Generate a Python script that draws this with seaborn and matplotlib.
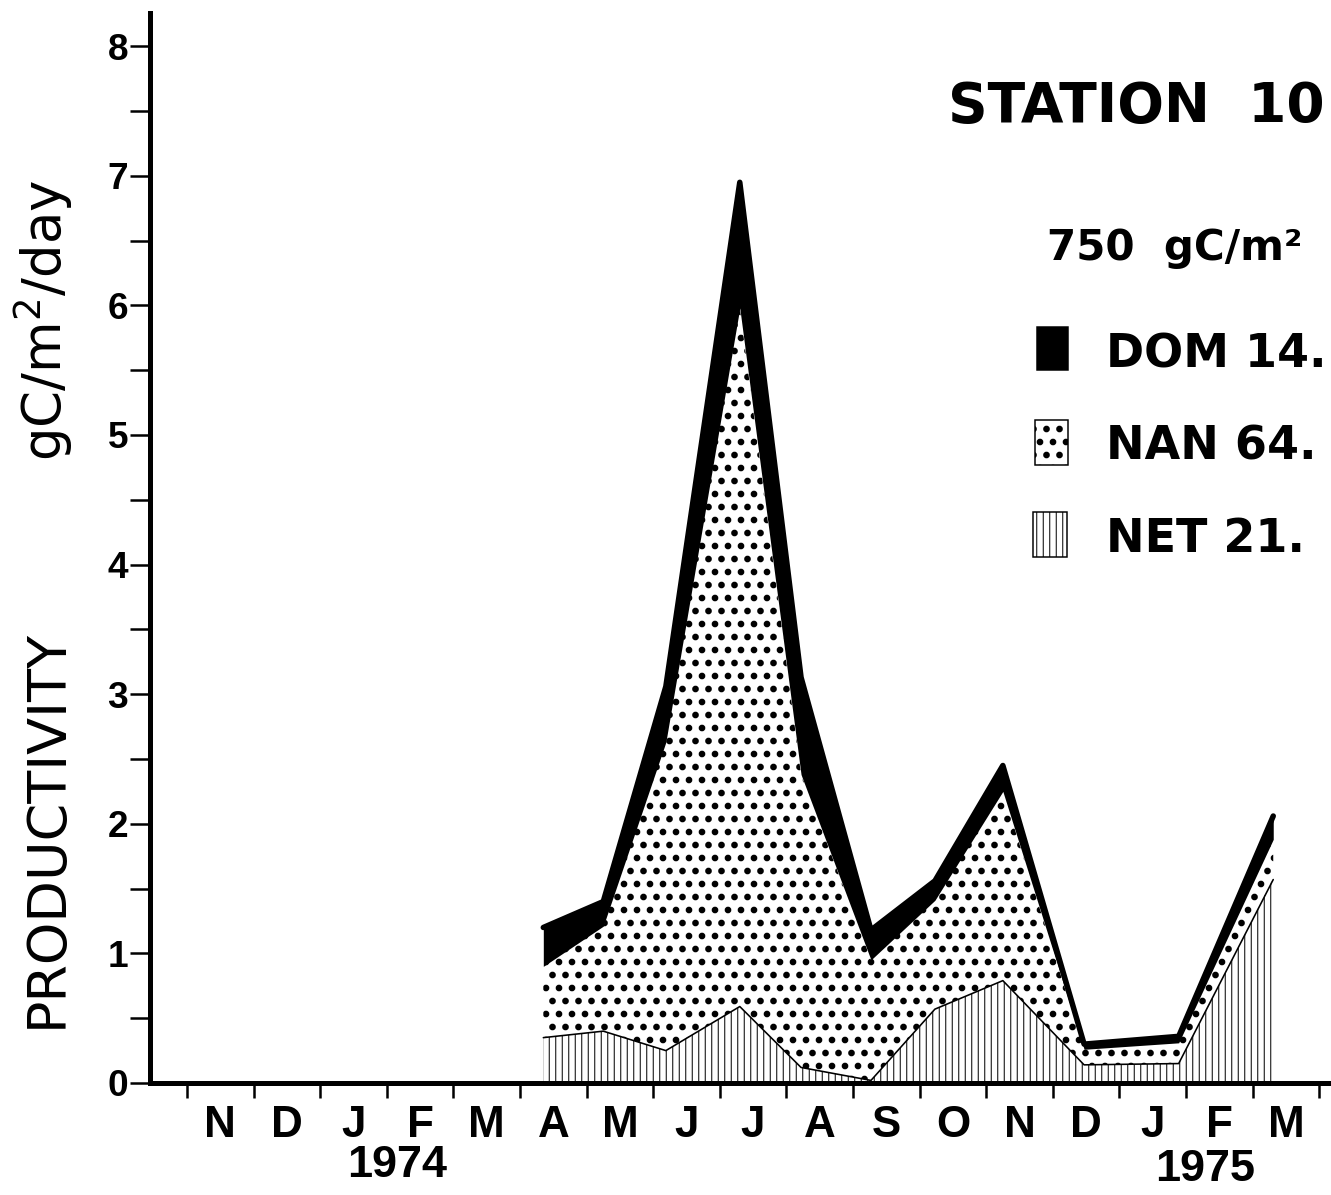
import numpy as np
import pandas as pd
import matplotlib
matplotlib.use("Agg")
import matplotlib.pyplot as plt
import matplotlib.transforms as mtransforms
from matplotlib.patches import Rectangle
from matplotlib.ticker import FixedLocator, NullFormatter, FixedFormatter
import seaborn as sns

# ---------------- data ----------------
month_labels = ['N', 'D', 'J', 'F', 'M', 'A', 'M', 'J', 'J', 'A', 'S', 'O', 'N', 'D', 'J', 'F', 'M']
year_labels = ['1974', '1975']
year_pos = [3.15, 15.29]
# sampling positions in months since the start of Nov 1973
sample_month = [5.35, 6.25, 7.19, 8.30, 9.22, 10.27, 11.23, 12.25, 13.47, 14.89, 16.31]
net_prod = [0.35, 0.40, 0.25, 0.59, 0.12, 0.02, 0.57, 0.79, 0.14, 0.15, 1.57]
nan_prod = [0.55, 0.81, 2.38, 5.39, 2.26, 0.93, 0.84, 1.46, 0.12, 0.16, 0.31]
dom_prod = [0.30, 0.19, 0.43, 0.97, 0.75, 0.23, 0.15, 0.20, 0.04, 0.05, 0.18]
legend_names = ['DOM', 'NAN', 'NET']
legend_pct = ['14.', '64.', '21.']
title_text = 'STATION  10'
annual_text = '750  gC/m²'

# ---------------- layout helpers ----------------
W, H, DPI = 1331, 1195, 78
P = 72.0 / DPI  # pixels -> points


def fx(px):
    return px / W


def fy(py):
    return 1 - py / H


sns.set_theme(style="ticks")
plt.rcParams['font.family'] = ['DejaVu Sans']
plt.rcParams['text.color'] = 'black'
plt.rcParams['xtick.color'] = 'black'
plt.rcParams['ytick.color'] = 'black'
plt.rcParams['xtick.labelcolor'] = 'black'
plt.rcParams['ytick.labelcolor'] = 'black'
plt.rcParams['axes.labelcolor'] = 'black'

df = pd.DataFrame({'month': sample_month, 'NET': net_prod, 'NAN': nan_prod, 'DOM': dom_prod})
df['net_top'] = df['NET']
df['nan_top'] = df['NET'] + df['NAN']
df['total'] = df['nan_top'] + df['DOM']

fig = plt.figure(figsize=(W / DPI, H / DPI), dpi=DPI)
fig.patch.set_facecolor('white')

y0_px, top_px, left_px = 1083, 13, 150
ppu_y = 129.6
x0_px, ppu_x = 187, 66.6
ax = fig.add_axes([fx(left_px), (H - y0_px) / H, (W - left_px) / W, (y0_px - top_px) / H])
ax.set_facecolor('white')
ax.set_ylim(0, (y0_px - top_px) / ppu_y)
ax.set_xlim((left_px - x0_px) / ppu_x, (W - x0_px) / ppu_x)


def make_fill(lo, hi, hatch, hlw, face):
    plt.rcParams['hatch.linewidth'] = hlw
    coll = ax.fill_between(df['month'], lo, hi, facecolor=face, edgecolor='black',
                           hatch=hatch, linewidth=0, zorder=1)
    if hasattr(coll, 'set_hatch_linewidth'):
        coll.set_hatch_linewidth(hlw)
    return coll


make_fill(0, df['net_top'], '||', 1.0 * P, 'white')
make_fill(df['net_top'], df['nan_top'], '.', 4.0 * P, 'white')
make_fill(df['nan_top'], df['total'], None, 1.0 * P, 'black')

sns.lineplot(data=df, x='month', y='net_top', color='black', linewidth=1.6 * P,
             errorbar=None, ax=ax, zorder=3)
sns.lineplot(data=df, x='month', y='total', color='black', linewidth=5.5 * P,
             errorbar=None, ax=ax, zorder=3)

# spines
for s in ['top', 'right']:
    ax.spines[s].set_visible(False)
for s in ['left', 'bottom']:
    ax.spines[s].set_linewidth(5 * P)
    ax.spines[s].set_color('black')
    ax.spines[s].set_zorder(4)

# y ticks
ax.yaxis.set_major_locator(FixedLocator(np.arange(0, 9)))
ax.yaxis.set_minor_locator(FixedLocator(np.arange(0.5, 8, 1.0)))
ax.tick_params(axis='y', which='both', direction='out', length=20 * P, width=2.5 * P,
               color='black', pad=2 * P)
ax.tick_params(axis='y', which='major', labelsize=37 * P, labelcolor='black')
for lab in ax.get_yticklabels():
    lab.set_fontweight('bold')
    lab.set_family(['Liberation Sans', 'DejaVu Sans'])

# x ticks: boundaries (marks) and month centres (labels)
ax.xaxis.set_major_locator(FixedLocator(np.arange(0, 18)))
ax.xaxis.set_major_formatter(NullFormatter())
ax.xaxis.set_minor_locator(FixedLocator(np.arange(len(month_labels)) + 0.5))
ax.xaxis.set_minor_formatter(FixedFormatter(month_labels))
ax.tick_params(axis='x', which='major', direction='out', length=15 * P, width=2.5 * P, color='black')
ax.tick_params(axis='x', which='minor', length=0, pad=22 * P, labelsize=44 * P, labelcolor='black')
for lab in ax.get_xticklabels(minor=True):
    lab.set_fontweight('bold')
    lab.set_family(['Liberation Sans', 'DejaVu Sans'])

ax.set_xlabel('')
ax.set_ylabel('')

# year labels
blend = mtransforms.blended_transform_factory(ax.transData, fig.transFigure)
for ypos, (xp, lab), in zip([1177, 1181], zip(year_pos, year_labels)):
    ax.text(xp, fy(ypos), lab, transform=blend, ha='center', va='baseline', color='black',
            fontsize=45 * P, fontweight='bold', family=['Liberation Sans', 'DejaVu Sans'])

# y axis label (two parts)
fig.text(fx(62), fy(828), 'PRODUCTIVITY', rotation=90, rotation_mode='anchor',
         ha='center', va='baseline', fontsize=54 * P, family=['DejaVu Sans'], color='black')
fig.text(fx(62), fy(320), 'gC/m$^{2}$/day', rotation=90, rotation_mode='anchor',
         ha='center', va='baseline', fontsize=53 * P, family=['DejaVu Sans'], color='black')

# title and annual total
fig.text(fx(948), fy(122), title_text, ha='left', va='baseline', fontsize=55 * P,
         fontweight='bold', color='black')
fig.text(fx(1047), fy(260), annual_text, ha='left', va='baseline', fontsize=42 * P,
         fontweight='bold', color='black')

# legend
boxes = [(1037, 327, 31, 43, 'black', None, 1.0), (1035, 420, 33, 45, 'white', '.', 4.0),
         (1033, 512, 34, 45, 'white', '||', 1.0)]
baselines = [368, 460, 552]
for (bx, by, bw, bh, face, hatch, hlw), name, pct, bl in zip(boxes, legend_names, legend_pct, baselines):
    plt.rcParams['hatch.linewidth'] = hlw * P
    r = Rectangle((fx(bx), fy(by + bh)), bw / W, bh / H, transform=fig.transFigure,
                  facecolor=face, edgecolor='black', linewidth=1.5 * P, hatch=hatch)
    if hasattr(r, 'set_hatch_linewidth'):
        r.set_hatch_linewidth(hlw * P)
    fig.add_artist(r)
    fig.text(fx(1106), fy(bl), f'{name} {pct}', ha='left', va='baseline',
             fontsize=46 * P, fontweight='bold', color='black')

fig.savefig('out.png', dpi=DPI, facecolor='white')
